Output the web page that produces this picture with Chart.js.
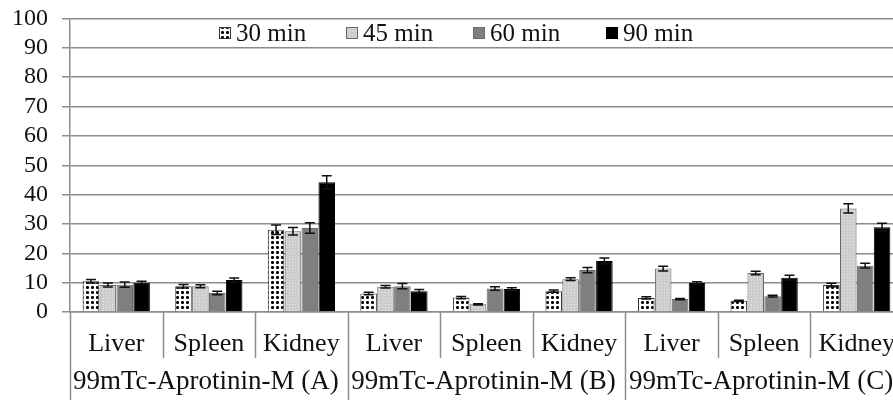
<!DOCTYPE html>
<html>
<head>
<meta charset="utf-8">
<script src="https://cdn.jsdelivr.net/npm/chart.js@4.4.1/dist/chart.umd.min.js"></script>
<style>
  html, body { margin: 0; padding: 0; background: #fff; overflow: hidden; }
  canvas { display: block; }
</style>
</head>
<body>
<canvas id="chart" width="905" height="400"></canvas>
<script>
const organs = ["Liver", "Spleen", "Kidney", "Liver", "Spleen", "Kidney", "Liver", "Spleen", "Kidney"];
const groups = ["99mTc-Aprotinin-M (A)", "99mTc-Aprotinin-M (B)", "99mTc-Aprotinin-M (C)"];
const seriesNames = ["30 min", "45 min", "60 min", "90 min"];

const min30 = [10.5, 8.8, 28.0, 6.3, 4.9, 7.1, 4.8, 3.8, 9.2];
const min45 = [9.2, 8.8, 27.5, 8.6, 2.6, 11.2, 14.8, 13.3, 35.3];
const min60 = [9.3, 6.5, 28.6, 8.8, 8.0, 14.3, 4.4, 5.4, 15.8];
const min90 = [10.0, 10.9, 44.2, 7.1, 7.8, 17.4, 9.9, 11.7, 28.9];

const err30 = [0.6, 0.6, 1.6, 0.4, 0.4, 0.4, 0.4, 0.2, 0.6];
const err45 = [0.7, 0.5, 1.3, 0.4, 0.2, 0.5, 0.8, 0.6, 1.6];
const err60 = [0.9, 0.6, 1.8, 0.9, 0.6, 0.9, 0.2, 0.3, 0.8];
const err90 = [0.5, 0.7, 2.2, 0.6, 0.5, 1.0, 0.4, 0.8, 1.3];

const yTicks = [0, 10, 20, 30, 40, 50, 60, 70, 80, 90, 100];

const SERIF = "'Liberation Serif', serif";
const GRID = "#8c8c8c";

// small tiles for the hatched fills
function dotPattern() {
  const c = document.createElement("canvas");
  c.width = 5; c.height = 5;
  const g = c.getContext("2d");
  g.fillStyle = "#fff";
  g.fillRect(0, 0, 5, 5);
  g.fillStyle = "#555";
  g.fillRect(1, 1, 3, 3);
  g.fillStyle = "#000";
  g.fillRect(1, 2, 3, 1);
  g.fillRect(2, 1, 1, 3);
  return g.createPattern(c, "repeat");
}

function speckPattern() {
  const c = document.createElement("canvas");
  c.width = 3; c.height = 3;
  const g = c.getContext("2d");
  g.fillStyle = "#cdcdcd";
  g.fillRect(0, 0, 3, 3);
  g.fillStyle = "#e4e4e4";
  g.fillRect(1, 1, 1, 1);
  return g.createPattern(c, "repeat");
}

const fills = [dotPattern(), speckPattern(), "#7f7f7f", "#000000"];
const borders = ["#333333", "#666666", "#6a6a6a", "#000000"];
const values = [min30, min45, min60, min90];
const errors = [err30, err45, err60, err90];

const errorBars = {
  id: "errorBars",
  afterDatasetsDraw(chart) {
    const { ctx } = chart;
    const y = chart.scales.y;
    ctx.save();
    ctx.strokeStyle = "#111";
    ctx.lineWidth = 1.5;
    chart.data.datasets.forEach((ds, di) => {
      const meta = chart.getDatasetMeta(di);
      meta.data.forEach((bar, i) => {
        const v = ds.data[i];
        const e = ds.errs[i];
        const top = y.getPixelForValue(v + e);
        const bot = y.getPixelForValue(v - e);
        const half = 5;
        ctx.beginPath();
        ctx.moveTo(bar.x, top); ctx.lineTo(bar.x, bot);
        ctx.moveTo(bar.x - half, top); ctx.lineTo(bar.x + half, top);
        ctx.moveTo(bar.x - half, bot); ctx.lineTo(bar.x + half, bot);
        ctx.stroke();
      });
    });
    ctx.restore();
  }
};

const groupAxis = {
  id: "groupAxis",
  afterDraw(chart) {
    const { ctx, chartArea } = chart;
    const x = chart.scales.x;
    const step = x.getPixelForValue(1) - x.getPixelForValue(0);
    const edge = (i) => x.getPixelForValue(i) - step / 2;
    ctx.save();
    ctx.strokeStyle = GRID;
    ctx.lineWidth = 1.5;
    for (let i = 0; i <= organs.length; i++) {
      const px = Math.round(edge(i)) + 0.5;
      ctx.beginPath();
      ctx.moveTo(px, chartArea.bottom);
      ctx.lineTo(px, i % 3 === 0 ? chart.height : 358);
      ctx.stroke();
    }
    ctx.fillStyle = "#111";
    ctx.font = "27px " + SERIF;
    ctx.textAlign = "center";
    ctx.textBaseline = "middle";
    groups.forEach((g, gi) => {
      const cx = (edge(gi * 3) + edge(gi * 3 + 3)) / 2;
      ctx.fillText(g, cx - 3, 382);
    });
    ctx.restore();
  }
};

const insideLegend = {
  id: "insideLegend",
  afterDraw(chart) {
    const { ctx } = chart;
    const starts = [219, 346, 473, 606];
    const cy = 33;
    ctx.save();
    ctx.font = "25px " + SERIF;
    ctx.textBaseline = "middle";
    ctx.textAlign = "left";
    chart.data.datasets.forEach((ds, i) => {
      const bx = starts[i];
      ctx.fillStyle = ds.backgroundColor;
      ctx.fillRect(bx, cy - 6, 12, 12);
      ctx.strokeStyle = ds.borderColor;
      ctx.lineWidth = 1;
      ctx.strokeRect(bx + 0.5, cy - 5.5, 11, 11);
      ctx.fillStyle = "#111";
      ctx.fillText(ds.label, bx + 17, cy + 1);
    });
    ctx.restore();
  }
};

new Chart(document.getElementById("chart"), {
  type: "bar",
  data: {
    labels: organs,
    datasets: seriesNames.map((name, i) => ({
      label: name,
      data: values[i],
      errs: errors[i],
      backgroundColor: fills[i],
      borderColor: borders[i],
      borderWidth: 1,
      categoryPercentage: 0.73,
      barPercentage: 0.98
    }))
  },
  options: {
    responsive: false,
    animation: false,
    layout: { padding: { top: 18.5, right: 2, left: 0, bottom: 0 } },
    plugins: { legend: { display: false }, tooltip: { enabled: false } },
    scales: {
      x: {
        grid: { display: false },
        border: { display: true, color: GRID, width: 1.5 },
        ticks: {
          color: "#111",
          font: { family: SERIF, size: 26 },
          padding: 9,
          maxRotation: 0,
          autoSkip: false
        },
        afterFit(scale) {
          scale.height = 88;
          scale.paddingLeft = 0;
          scale.paddingRight = 0;
        }
      },
      y: {
        min: 0,
        max: 100,
        afterBuildTicks(scale) { scale.ticks = yTicks.map((v) => ({ value: v })); },
        grid: { color: GRID, lineWidth: 1.5, tickLength: 8 },
        border: { display: true, color: GRID, width: 1.5 },
        ticks: {
          color: "#111",
          font: { family: SERIF, size: 24 },
          padding: 14,
          autoSkip: false
        },
        afterFit(scale) {
          scale.width = 70;
          scale.paddingTop = 0;
          scale.paddingBottom = 0;
        }
      }
    }
  },
  plugins: [errorBars, groupAxis, insideLegend]
});
</script>
</body>
</html>
